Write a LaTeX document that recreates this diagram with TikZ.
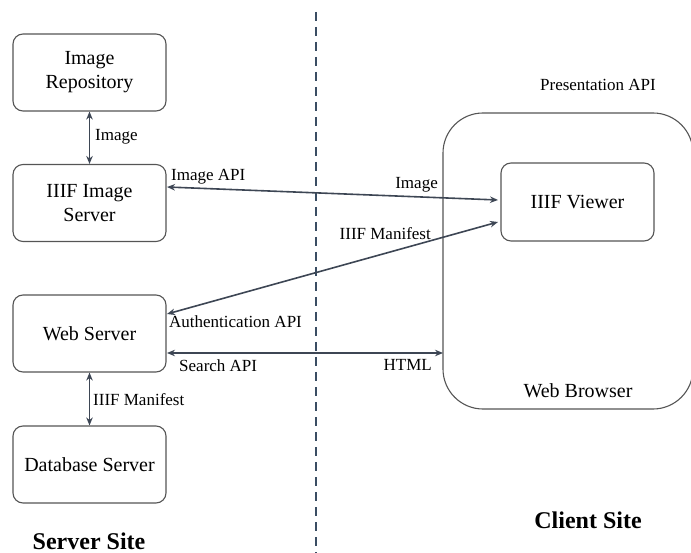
\documentclass[tikz,border=0pt]{standalone}
\usepackage{fontspec}
\setmainfont{Liberation Serif}
\usetikzlibrary{arrows.meta}
\definecolor{boxline}{HTML}{555555}
\definecolor{arrowline}{HTML}{3D4654}
\definecolor{divider}{HTML}{3A4D63}
\begin{document}
\begin{tikzpicture}[x=1pt,y=-1pt,
  box/.style={draw=boxline,line width=1.1pt,rounded corners=10pt,
    minimum width=153pt,minimum height=77pt,align=center,
    font=\fontsize{20}{24}\selectfont,inner sep=2pt},
  link/.style={draw=arrowline,line width=1.6pt,
    {Stealth[length=8pt,width=6.5pt]}-{Stealth[length=8pt,width=6.5pt]}},
  lbl/.style={inner sep=0pt,font=\fontsize{17}{20}\selectfont},
  title/.style={inner sep=0pt,font=\fontsize{24}{28}\selectfont\bfseries}]
\useasboundingbox (0,0) rectangle (691,553);
\clip (0,0) rectangle (691,553);

% server / client divider
\draw[divider,line width=1.3pt,dash pattern=on 9pt off 6pt] (316,12) -- (316,553);

% web browser frame
\node[draw=boxline,line width=1.1pt,rounded corners=40pt,minimum width=250pt,
  minimum height=296pt,inner sep=0pt] (browser) at (568,261) {};
\node[lbl,font=\fontsize{20}{24}\selectfont] (browsertext) at (578,391) {Web Browser};
\node[lbl] (presapi) at (598,85) {Presentation API};

% components
\node[box] (repo) at (89.5,72.5) {Image\\Repository};
\node[box] (imgsrv) at (89.5,203) {IIIF Image\\Server};
\node[box] (websrv) at (89.5,333.5) {Web Server};
\node[box] (dbsrv) at (89.5,464.5) {Database Server};
\node[box,minimum width=153pt,minimum height=78pt] (viewer) at (577.5,202) {IIIF Viewer};

% anchor points on the boxes
\coordinate (imgL) at (167,187);
\coordinate (imgR) at (498,200);
\coordinate (manL) at (167,314);
\coordinate (manR) at (498,222);
\coordinate (srchL) at (167,353);
\coordinate (srchR) at (443,353);

% connectors
\draw[link] (repo.south) -- (imgsrv.north);
\draw[link] (websrv.south) -- (dbsrv.north);
\draw[link] (imgL) -- (imgR);
\draw[link] (manL) -- (manR);
\draw[link] (srchL) -- (srchR);

% connector labels
\node[lbl,anchor=west] (l1) at (95,137) {Image};
\node[lbl,anchor=west] (l2) at (171,177) {Image API};
\node[lbl,anchor=east] (l3) at (438,185) {Image};
\node[lbl,anchor=east] (l4) at (431,234) {IIIF Manifest};
\node[lbl,anchor=west] (l5) at (169,322) {Authentication API};
\node[lbl,anchor=west] (l6) at (179,366) {Search API};
\node[lbl,anchor=east] (l7) at (432,365) {HTML};
\node[lbl,anchor=west] (l8) at (93,400) {IIIF Manifest};

% site titles
\node[title] (server) at (89,541) {Server Site};
\node[title] (client) at (588,520) {Client Site};
\end{tikzpicture}
\end{document}
